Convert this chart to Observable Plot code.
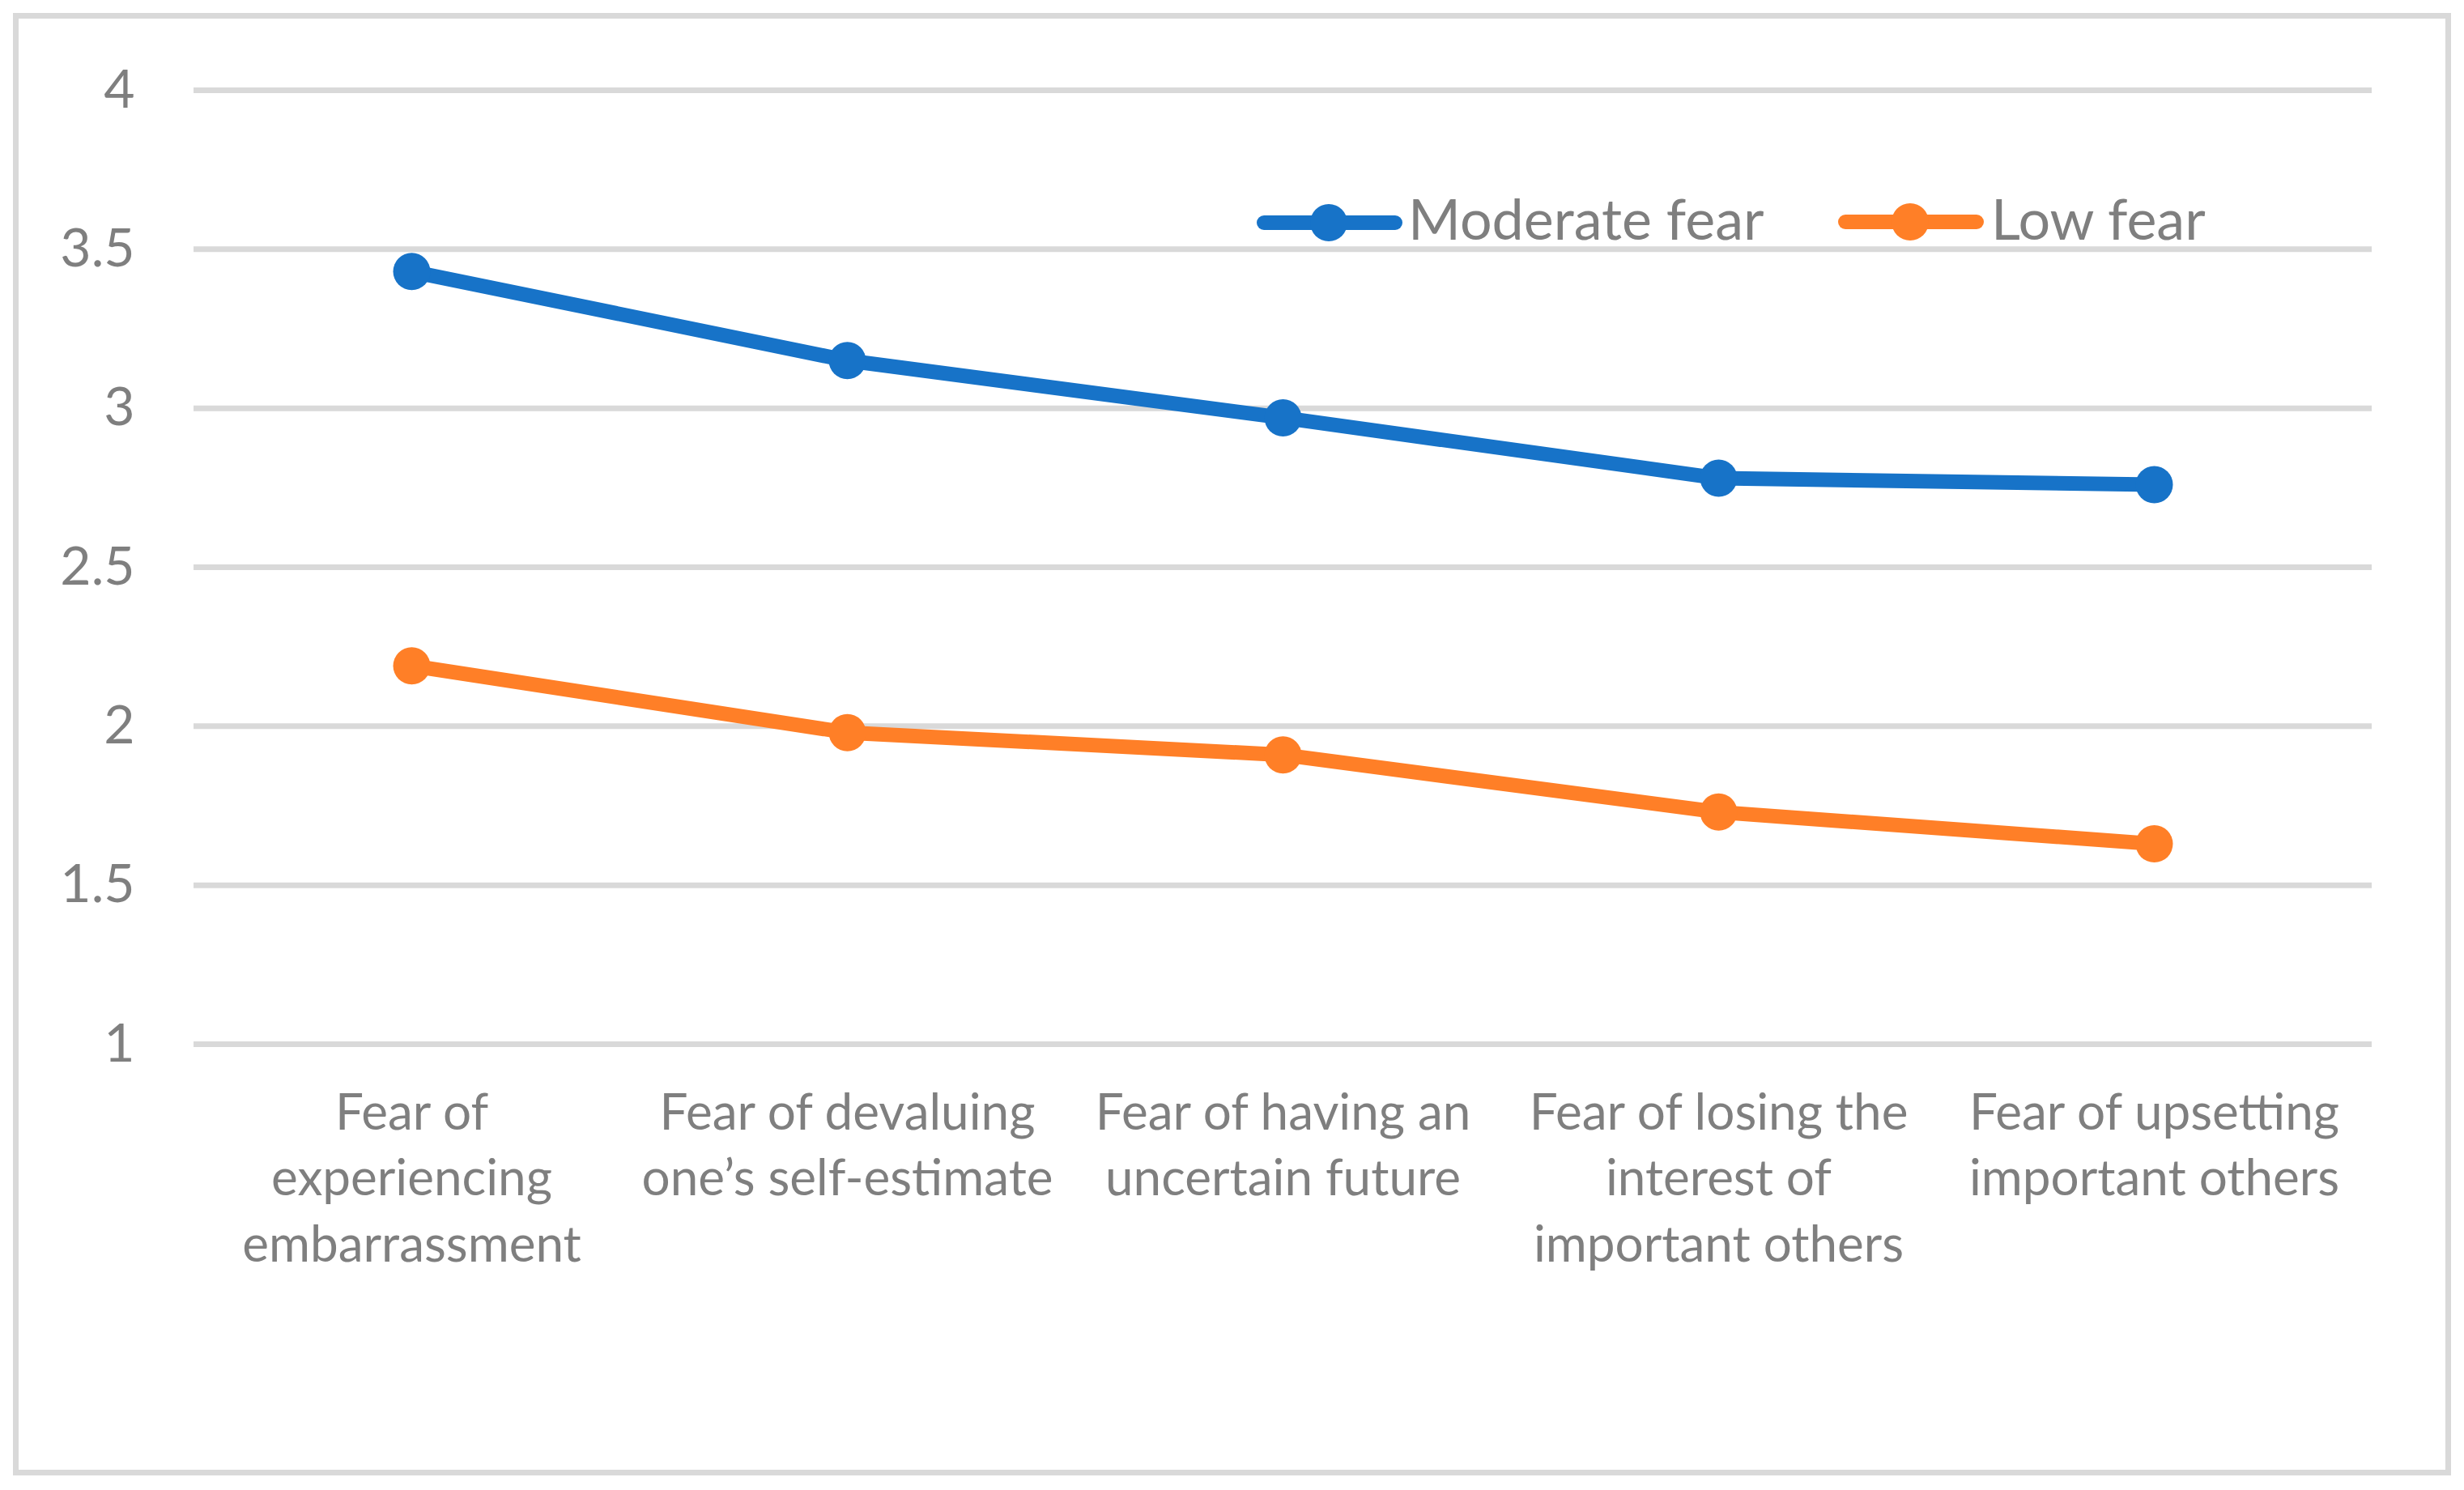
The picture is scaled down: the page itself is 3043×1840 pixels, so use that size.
<!DOCTYPE html>
<html>
<head>
<meta charset="utf-8">
<script src="https://cdn.jsdelivr.net/npm/d3@7"></script>
<script src="https://cdn.jsdelivr.net/npm/@observablehq/plot@0.6"></script>
<style>
  html, body { margin: 0; padding: 0; background: #ffffff; }
  #wrap { position: relative; width: 3043px; height: 1840px; overflow: hidden; background: #ffffff; }
  #border { position: absolute; left: 16px; top: 16px; width: 3011px; height: 1806px; box-sizing: border-box; border: 7px solid #d9d9d9; pointer-events: none; }
  #chart { position: absolute; left: 0; top: 0; }
  #legend { position: absolute; left: 0; top: 0; }
</style>
</head>
<body>
<div id="wrap">
  <div id="chart"></div>
  <svg id="legend" width="3043" height="400"></svg>
  <div id="border"></div>
</div>
<script>
const categories = [
  "Fear of experiencing embarrassment",
  "Fear of devaluing one’s self-estimate",
  "Fear of having an uncertain future",
  "Fear of losing the interest of important others",
  "Fear of upsetting important others"
];
const tickLabels = [
  "Fear of\nexperiencing\nembarrassment",
  "Fear of devaluing\none’s self-estimate",
  "Fear of having an\nuncertain future",
  "Fear of losing the\ninterest of\nimportant others",
  "Fear of upsetting\nimportant others"
];
const seriesNames = ["Moderate fear", "Low fear"];
const moderateFear = [3.43, 3.15, 2.97, 2.78, 2.76];
const lowFear = [2.19, 1.98, 1.91, 1.73, 1.63];
const yTicks = [1, 1.5, 2, 2.5, 3, 3.5, 4];
const seriesColors = ["#1773c8", "#ff7f27"];

const data = categories.flatMap((c, i) => [
  {category: c, series: seriesNames[0], value: moderateFear[i]},
  {category: c, series: seriesNames[1], value: lowFear[i]}
]);

const textColor = "#7f7f7f";
const font = "Lato, 'Open Sans', sans-serif";

const chart = Plot.plot({
  width: 3043,
  height: 1840,
  marginLeft: 239,
  marginRight: 114,
  marginTop: 111,
  marginBottom: 551,
  style: {fontFamily: font, background: "transparent", color: textColor, overflow: "visible"},
  x: {type: "point", domain: categories, padding: 0.5},
  y: {domain: [1, 4]},
  color: {domain: seriesNames, range: seriesColors},
  marks: [
    Plot.ruleY(yTicks, {stroke: "#d9d9d9", strokeWidth: 7}),
    Plot.axisY({ticks: yTicks, tickSize: 0, tickPadding: 73, fontSize: 66, tickFormat: d => String(d), fill: textColor, label: null}),
    Plot.axisX({tickSize: 0, tickPadding: 48, fontSize: 62, lineHeight: 1.31, fill: textColor, label: null,
      tickFormat: d => tickLabels[categories.indexOf(d)]}),
    Plot.line(data, {x: "category", y: "value", z: "series", stroke: "series", strokeWidth: 18, strokeLinejoin: "round", strokeLinecap: "round"}),
    Plot.dot(data, {x: "category", y: "value", fill: "series", r: 23})
  ]
});
document.getElementById("chart").appendChild(chart);

// Legend (inside the plot area, top right)
const legendItems = [
  {name: seriesNames[0], color: seriesColors[0], x1: 1561, x2: 1723, cx: 1641, cy: 275, tx: 1739, ty: 296},
  {name: seriesNames[1], color: seriesColors[1], x1: 2279, x2: 2441, cx: 2359, cy: 274, tx: 2459, ty: 296}
];
const lg = d3.select("#legend");
for (const it of legendItems) {
  lg.append("line").attr("x1", it.x1).attr("x2", it.x2).attr("y1", it.cy).attr("y2", it.cy)
    .attr("stroke", it.color).attr("stroke-width", 18).attr("stroke-linecap", "round");
  lg.append("circle").attr("cx", it.cx).attr("cy", it.cy).attr("r", 23).attr("fill", it.color);
  lg.append("text").attr("x", it.tx).attr("y", it.ty).attr("fill", textColor)
    .attr("font-family", font).attr("font-size", 70).text(it.name);
}
</script>
</body>
</html>
